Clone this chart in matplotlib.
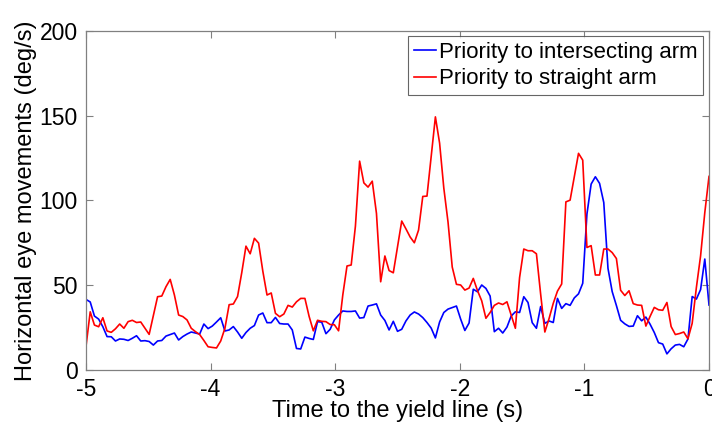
import numpy as np
import matplotlib
matplotlib.use("Agg")
import matplotlib.pyplot as plt

plt.rcParams["font.family"] = ["Liberation Sans", "DejaVu Sans"]
plt.rcParams["axes.unicode_minus"] = False

# Time axis: samples spanning the last 5 s before the yield line
t_start, t_end, n_samples = -5.0, 0.0, 149
time = np.linspace(t_start, t_end, n_samples)

# Horizontal eye movement speed (deg/s)
intersecting_arm = [
    41.6, 40.1, 31.8, 30.0, 25.5, 19.7, 19.6, 17.1, 18.3, 18.1,
    17.4, 18.7, 20.2, 17.1, 17.3, 16.8, 14.7, 17.1, 17.4, 20.0,
    20.9, 21.8, 17.7, 19.7, 21.2, 22.4, 21.8, 21.2, 27.1, 24.4,
    25.9, 28.3, 30.8, 23.0, 23.6, 25.6, 22.4, 18.7, 22.1, 24.6,
    26.2, 32.4, 33.6, 27.9, 27.9, 31.0, 27.4, 27.1, 27.1, 23.6,
    12.7, 12.4, 19.4, 18.6, 18.0, 28.5, 28.2, 21.4, 24.0, 29.5,
    32.4, 34.8, 34.5, 34.5, 34.8, 30.6, 30.9, 37.7, 38.3, 39.0,
    32.4, 29.2, 23.6, 28.7, 22.8, 24.0, 28.9, 32.4, 34.2, 33.0,
    30.9, 28.0, 24.7, 18.9, 28.3, 33.9, 35.9, 36.8, 37.7, 30.0,
    23.3, 27.7, 47.6, 46.1, 50.1, 48.1, 43.6, 22.6, 24.6, 21.8,
    25.3, 31.8, 34.3, 33.9, 43.2, 39.8, 27.9, 24.6, 37.4, 27.5,
    28.9, 28.0, 42.2, 36.3, 39.1, 38.1, 42.5, 44.9, 51.1, 91.9,
    109.6, 113.9, 110.0, 98.7, 59.9, 46.2, 38.0, 29.3, 27.2, 25.7,
    25.9, 32.0, 29.0, 31.2, 27.0, 22.1, 16.1, 15.3, 9.5, 12.5,
    14.7, 15.1, 13.7, 18.3, 43.3, 41.8, 47.4, 65.4, 38.3,
]

straight_arm = [
    14.0, 34.3, 26.5, 25.5, 30.8, 23.0, 22.2, 24.3, 27.1, 24.6,
    28.5, 29.3, 28.0, 28.3, 24.7, 21.0, 32.1, 43.2, 43.6, 49.1,
    53.4, 44.2, 32.4, 31.5, 29.5, 24.6, 22.6, 20.9, 17.4, 13.7,
    13.3, 13.0, 17.1, 24.6, 38.5, 38.9, 43.3, 57.4, 73.0, 68.5,
    77.6, 74.8, 58.3, 44.2, 45.4, 33.4, 31.4, 33.0, 38.1, 37.1,
    40.2, 42.2, 42.2, 31.6, 23.1, 29.3, 28.7, 28.5, 26.8, 26.7,
    23.1, 44.2, 61.3, 61.9, 84.8, 123.1, 110.3, 107.8, 111.3, 92.3,
    52.0, 67.2, 58.6, 57.3, 72.6, 87.8, 83.2, 78.4, 75.0, 82.5,
    102.3, 102.5, 125.7, 149.2, 133.7, 107.2, 87.2, 60.7, 50.5, 50.1,
    47.1, 48.3, 54.0, 46.8, 40.8, 30.5, 33.9, 38.1, 39.5, 38.6,
    40.2, 32.4, 24.6, 54.5, 71.3, 70.3, 70.3, 68.5, 44.8, 22.4,
    30.3, 39.3, 46.5, 50.7, 99.1, 100.1, 113.9, 127.7, 123.7, 72.2,
    73.3, 56.0, 56.0, 71.3, 71.3, 69.2, 65.7, 47.0, 43.9, 46.7,
    39.1, 38.3, 38.1, 25.9, 31.6, 36.9, 35.5, 35.2, 39.8, 25.6,
    20.9, 21.5, 22.4, 18.4, 27.5, 48.6, 67.3, 92.8, 114.1,
]

series_labels = ["Priority to intersecting arm", "Priority to straight arm"]
x_ticks = [-5, -4, -3, -2, -1, 0]
y_ticks = [0, 50, 100, 150, 200]

fig = plt.figure(figsize=(7.12, 4.32), dpi=100)
ax = fig.add_axes([0.1208, 0.1435, 0.875, 0.7855])

ax.plot(time, intersecting_arm, color="#0000ff", lw=1.2, label=series_labels[0])
ax.plot(time, straight_arm, color="#ff0000", lw=1.2, label=series_labels[1])

ax.set_xlim(-5, 0)
ax.set_ylim(0, 200)
ax.set_xticks(x_ticks)
ax.set_yticks(y_ticks)

axis_grey = "#808080"
for side in ax.spines.values():
    side.set_color(axis_grey)
    side.set_linewidth(0.9)
ax.tick_params(direction="in", length=5, width=0.8, color=axis_grey,
               top=True, right=True, labelsize=16.5, labelcolor="black")
ax.tick_params(axis="x", pad=6)
ax.tick_params(axis="y", pad=6)

ax.set_xlabel("Time to the yield line (s)", fontsize=17, labelpad=-1)
ax.set_ylabel("Horizontal eye movements (deg/s)", fontsize=17, labelpad=2)

leg = ax.legend(loc="upper right", fontsize=16, frameon=True, fancybox=False,
                handlelength=1.0, handletextpad=0.15, borderpad=0.25,
                labelspacing=0.25, borderaxespad=0.25)
leg.get_frame().set_edgecolor("#404040")
leg.get_frame().set_linewidth(0.8)

fig.savefig("out.png", dpi=100)
